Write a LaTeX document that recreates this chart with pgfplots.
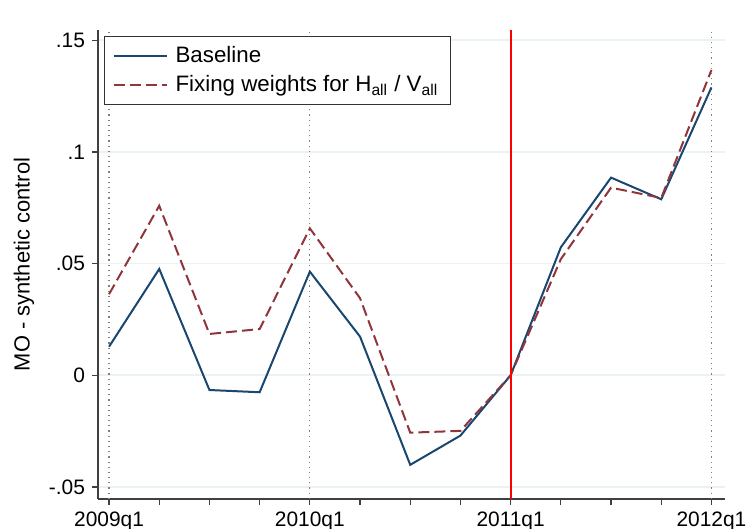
\documentclass[border=0pt]{standalone}
\usepackage{fontspec}
\setmainfont{Liberation Sans}
\usepackage{pgfplots}
\pgfplotsset{compat=1.18}
\definecolor{stnavy}{HTML}{1A476F}
\definecolor{stmaroon}{HTML}{90353B}
\definecolor{stgrid}{HTML}{EAF2F3}
\begin{document}
\begin{tikzpicture}
\begin{axis}[
 scale only axis, width=313.5bp, height=234.5bp,
 xmin=-0.22, xmax=12.27, ymin=-0.0554, ymax=0.1546,
 axis x line*=bottom, axis y line*=left,
 axis line style={black!75, line width=0.8pt, -},
 xtick={0,4,8,12}, xticklabels={2009q1,2010q1,2011q1,2012q1},
 minor xtick={1,2,3,5,6,7,9,10,11},
 ytick={-0.05,0,0.05,0.1,0.15}, yticklabels={-.05,0,.05,.1,.15},
 tick align=outside, major tick length=3bp, minor tick length=3bp,
 tick style={black!75, line width=0.6pt},
 ymajorgrids, grid style={stgrid, line width=0.8pt},
 ticklabel style={font=\fontsize{10.5}{12}\selectfont},
 ylabel={MO - synthetic control},
 ylabel style={font=\fontsize{11}{13}\selectfont, at={(axis description cs:-0.118,0.5)}, anchor=center},
 legend style={at={(axis description cs:0,1)}, anchor=north west, xshift=3bp, yshift=-3bp,
   draw=black!80, line width=0.6pt, font=\fontsize{11.2}{13}\selectfont,
   inner xsep=4bp, inner ysep=3bp, row sep=1bp},
 legend cell align=left,
 legend image code/.code={\draw[#1] (0bp,0bp) -- (26.5bp,0bp); \path[draw=none] (0bp,0bp) -- (29bp,0bp);},
]
\addplot[gray, dotted, line width=0.6pt, forget plot] coordinates {(0,-0.0554) (0,0.1546)};
\addplot[gray, dotted, line width=0.6pt, forget plot] coordinates {(4,-0.0554) (4,0.1546)};
\addplot[gray, dotted, line width=0.6pt, forget plot] coordinates {(12,-0.0554) (12,0.1546)};
\addplot[stnavy, line width=1bp] coordinates {
(0,0.0128) (1,0.0476) (2,-0.0066) (3,-0.0076) (4,0.0464) (5,0.0173) (6,-0.0401)
(7,-0.0270) (8,0.0) (9,0.0573) (10,0.0885) (11,0.0788) (12,0.1289)};
\addlegendentry{Baseline}
\addplot[stmaroon, line width=1bp, dash pattern=on 5.5bp off 2.5bp] coordinates {
(0,0.0363) (1,0.0759) (2,0.0185) (3,0.0207) (4,0.0658) (5,0.0345) (6,-0.0257)
(7,-0.0249) (8,0.0) (9,0.0520) (10,0.0840) (11,0.0794) (12,0.1367)};
\addlegendentry{Fixing weights for H\textsubscript{all} / V\textsubscript{all}}
\addplot[red, line width=1bp, forget plot] coordinates {(8,-0.0554) (8,0.1546)};
\end{axis}
\pgfresetboundingbox
\path ([shift={(-49bp,-15bp)}]current axis.south west) rectangle ([shift={(10.5bp,15bp)}]current axis.north east);
\end{tikzpicture}
\end{document}
